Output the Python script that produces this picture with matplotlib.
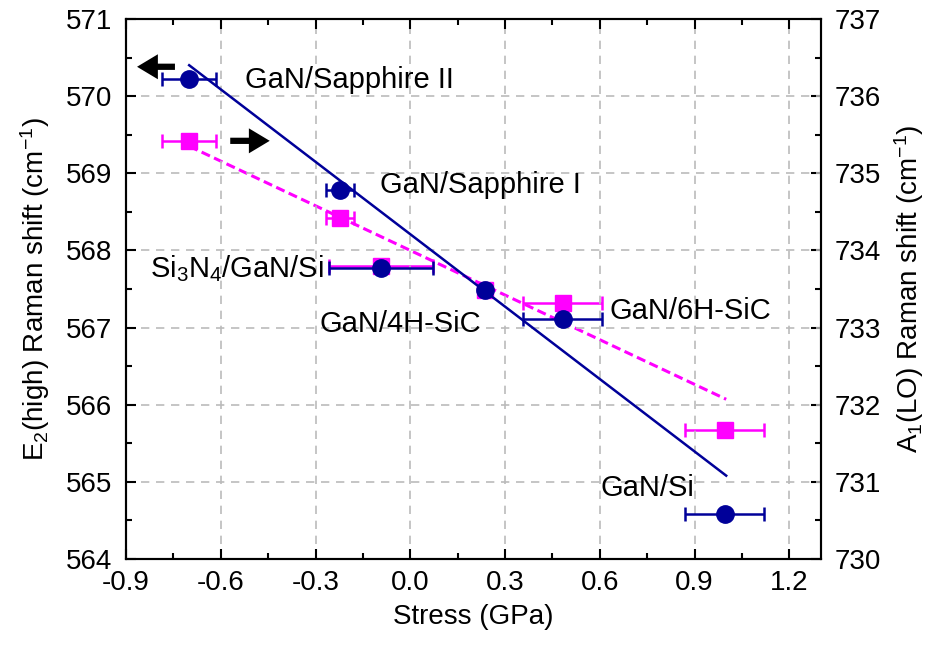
import numpy as np
import matplotlib.pyplot as plt
from matplotlib.ticker import MultipleLocator

plt.rcParams['font.family'] = ['Liberation Sans', 'DejaVu Sans']
plt.rcParams['mathtext.fontset'] = 'custom'
plt.rcParams['mathtext.rm'] = 'Liberation Sans'
plt.rcParams['mathtext.it'] = 'Liberation Sans'

# 数据：应力 (GPa) 和两个拉曼峰位
stress     = [-0.70, -0.223, -0.093, 0.236, 0.483, 0.996]
stress_err = [0.085, 0.045, 0.165, 0.0, 0.125, 0.125]
e2_high    = [570.22, 568.78, 567.77, 567.49, 567.11, 564.58]
a1_lo      = [735.42, 734.42, 733.80, 733.49, 733.32, 731.67]

# 拟合直线的两个端点
e2_fit_x = [-0.70, 1.0]
e2_fit_y = [570.40, 565.08]
a1_fit_x = [-0.70, 1.0]
a1_fit_y = [735.35, 732.07]

labels   = ['GaN/Sapphire II', 'GaN/Sapphire I', 'Si$_3$N$_4$/GaN/Si',
            'GaN/4H-SiC', 'GaN/6H-SiC', 'GaN/Si']
label_xy = [(-0.523, 570.21), (-0.096, 568.85), (-0.824, 567.77),
            (-0.286, 567.05), (0.632, 567.21), (0.603, 564.92)]

BLUE = '#000099'
PINK = '#FF00FF'

fig = plt.figure(figsize=(9.36, 6.53), dpi=100)
ax = fig.add_axes([0.1346, 0.144, 0.7425, 0.827])
ax2 = ax.twinx()
ax.set_zorder(ax2.get_zorder() + 1)
ax.patch.set_visible(False)

# 右轴 A1(LO)
ax2.plot(a1_fit_x, a1_fit_y, '--', color=PINK, linewidth=2.2, dashes=(3, 1.5))
ax2.errorbar(stress, a1_lo, xerr=stress_err, fmt='s', color=PINK, ms=11.5,
             capsize=5, elinewidth=1.8, capthick=1.8)
ax2.set_ylim(730, 737)

# 左轴 E2(high)
ax.plot(e2_fit_x, e2_fit_y, '-', color=BLUE, linewidth=1.8)
ax.errorbar(stress, e2_high, xerr=stress_err, fmt='o', color=BLUE, ms=12.5,
            capsize=5, elinewidth=1.8, capthick=1.8)
ax.set_xlim(-0.9, 1.3)
ax.set_ylim(564, 571)

ax.xaxis.set_major_locator(MultipleLocator(0.3))
ax.xaxis.set_minor_locator(MultipleLocator(0.15))
ax.yaxis.set_major_locator(MultipleLocator(1))
ax.yaxis.set_minor_locator(MultipleLocator(0.5))
ax2.yaxis.set_major_locator(MultipleLocator(1))
ax2.yaxis.set_minor_locator(MultipleLocator(0.5))
ax.set_xticks(np.arange(-0.9, 1.21, 0.3))
ax.set_xticklabels(['-0.9', '-0.6', '-0.3', '0.0', '0.3', '0.6', '0.9', '1.2'])

ax.tick_params(which='both', direction='in', top=True, labelsize=20, width=1.5)
ax.tick_params(which='major', length=7)
ax.tick_params(which='minor', length=4)
ax.tick_params(axis='y', which='major', pad=10)
ax.tick_params(axis='x', which='major', pad=8)
ax2.tick_params(which='both', direction='in', labelsize=20, width=1.5)
ax2.tick_params(which='major', length=7, pad=10)
ax2.tick_params(which='minor', length=4)
for a in (ax, ax2):
    for s in a.spines.values():
        s.set_linewidth(1.5)

ax.grid(True, which='major', linestyle=(0, (5, 4)), color='#BBBBBB', linewidth=1.2)

ax.set_xlabel('Stress (GPa)', fontsize=20, labelpad=6)
ax.set_ylabel('E$_2$(high) Raman shift (cm$^{-1}$)', fontsize=20, labelpad=10)
ax2.set_ylabel('A$_1$(LO) Raman shift (cm$^{-1}$)', fontsize=20, labelpad=8)

for txt, (tx, ty) in zip(labels, label_xy):
    ax.text(tx, ty, txt, fontsize=21, ha='left', va='center')

# 指示坐标轴的箭头
arrow_style = dict(arrowstyle='simple,head_length=0.5,head_width=0.6,tail_width=0.15',
                   fc='black', ec='none', mutation_scale=30, shrinkA=0, shrinkB=0)
ax.annotate('', xy=(-0.865, 570.38), xytext=(-0.745, 570.38), arrowprops=arrow_style)
ax.annotate('', xy=(-0.445, 569.42), xytext=(-0.57, 569.42), arrowprops=arrow_style)

plt.savefig('out.png', dpi=100)
